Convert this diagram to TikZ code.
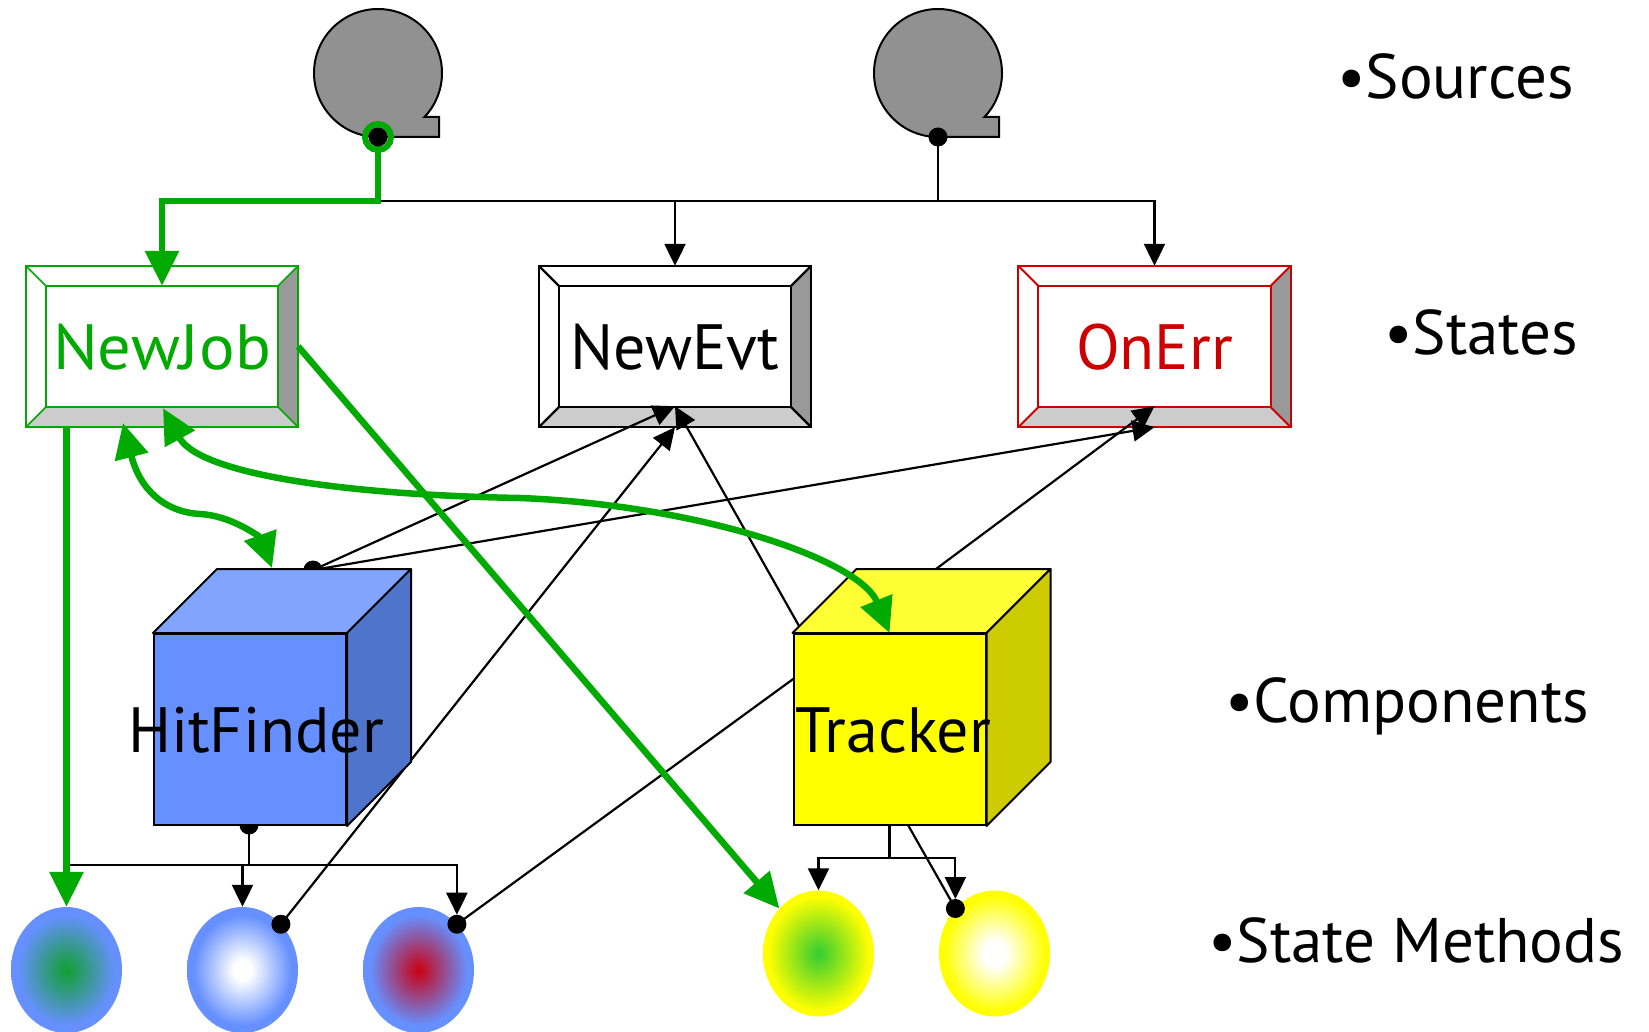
\documentclass[tikz,border=0pt]{standalone}
\usepackage{fontspec}
\usepackage{graphicx}
\setmainfont{PT Sans}
\usetikzlibrary{arrows.meta,calc,shapes.geometric}

\definecolor{jobgreen}{HTML}{00AA00}
\definecolor{errred}{HTML}{CC0000}
\definecolor{tapegray}{HTML}{919191}
\definecolor{bevellight}{HTML}{CCCCCC}
\definecolor{beveldark}{HTML}{999999}
\definecolor{hitblue}{HTML}{6690FF}
\definecolor{hittop}{HTML}{80A4FF}
\definecolor{hitside}{HTML}{4E74CC}
\definecolor{trkyellow}{HTML}{FFFF00}
\definecolor{trktop}{HTML}{FFFF33}
\definecolor{trkside}{HTML}{CCCC00}
\definecolor{methgreen}{HTML}{10A030}
\definecolor{methlime}{HTML}{33CC33}
\definecolor{methred}{HTML}{CC0011}

% method shadings
\pgfdeclareradialshading{jobblue}{\pgfpoint{0bp}{0bp}}{color(0bp)=(methgreen); color(22bp)=(hitblue); color(50bp)=(hitblue)}
\pgfdeclareradialshading{evtblue}{\pgfpoint{0bp}{0bp}}{color(0bp)=(white); color(4bp)=(white); color(22bp)=(hitblue); color(50bp)=(hitblue)}
\pgfdeclareradialshading{errblue}{\pgfpoint{0bp}{0bp}}{color(0bp)=(methred); color(22bp)=(hitblue); color(50bp)=(hitblue)}
\pgfdeclareradialshading{jobyellow}{\pgfpoint{0bp}{0bp}}{color(0bp)=(methlime); color(23bp)=(trkyellow); color(50bp)=(trkyellow)}
\pgfdeclareradialshading{evtyellow}{\pgfpoint{0bp}{0bp}}{color(0bp)=(white); color(5bp)=(white); color(23bp)=(trkyellow); color(50bp)=(trkyellow)}

\tikzset{
  thinline/.style={line width=2.2pt},
  sigline/.style={line width=2.2pt, -{Triangle[length=22pt,width=21pt]}},
  greenline/.style={line width=6.5pt, jobgreen, -{Triangle[length=35pt,width=33pt]}},
  greenboth/.style={line width=6.5pt, jobgreen, {Triangle[length=35pt,width=33pt]}-{Triangle[length=35pt,width=33pt]}},
  statebox/.style={minimum width=272pt, minimum height=161pt, inner sep=0pt,
    text height=45pt, text depth=0pt, font=\fontsize{64}{70}\selectfont},
  cubefront/.style={draw, line width=2pt, minimum width=192pt, minimum height=191pt, inner sep=0pt},
  cubename/.style={inner sep=0pt, text height=45pt, text depth=0pt, font=\fontsize{64}{70}\selectfont},
  methnode/.style={ellipse, minimum width=111pt, minimum height=126pt, inner sep=0pt, shade},
  tagtext/.style={anchor=base west, inner sep=0pt, font=\fontsize{63}{70}\selectfont},
}

\begin{document}
\begin{tikzpicture}[x=1pt, y=-1pt]
\useasboundingbox (0,0) rectangle (1649,1032);

% States
\node[statebox, text=jobgreen] (newjob) at (162,346.5) {\scalebox{1.04}[1]{NewJob}};
\node[statebox] (newevt) at (675,346.5) {NewEvt};
\node[statebox, text=errred] (onerr) at (1154.5,346.5) {OnErr};

\foreach \bx/\c/\w in {newjob/jobgreen/1.6, newevt/black/2.2, onerr/errred/1.8}{
  \fill[bevellight] (\bx.south west) -- (\bx.south east) -- ($(\bx.south east)+(-20,-20)$) -- ($(\bx.south west)+(20,-20)$) -- cycle;
  \fill[beveldark] (\bx.north east) -- (\bx.south east) -- ($(\bx.south east)+(-20,-20)$) -- ($(\bx.north east)+(-20,20)$) -- cycle;
  \draw[draw=\c, line width=\w pt] (\bx.south west) rectangle (\bx.north east);
  \draw[draw=\c, line width=\w pt] ($(\bx.south west)+(20,-20)$) rectangle ($(\bx.north east)+(-20,20)$);
  \draw[draw=\c, line width=\w pt] (\bx.south west) -- ++(20,-20) (\bx.south east) -- ++(-20,-20)
    (\bx.north east) -- ++(-20,20) (\bx.north west) -- ++(20,20);
}

% Sources
\coordinate (src1) at (378,137);
\coordinate (src2) at (938,137);
\foreach \s in {src1, src2}
  \filldraw[fill=tapegray, line width=2pt] (\s) arc[start angle=90, end angle=403.4, radius=64]
    -- ++(14.5,0) -- ++(0,20) -- cycle;

\coordinate (bus) at (378,201);
\draw[thinline] (src2) -- (src2 |- bus);
\draw[sigline] (bus) -| (onerr.north);
\draw[sigline] (bus -| newevt.north) -- (newevt.north);
\draw[greenline] (src1) -- (bus) -| ($(newjob.north)+(0,20)$);

% State methods
\node[methnode, shading=jobblue] (hf-job) at (66.5,970) {};
\node[methnode, shading=evtblue] (hf-evt) at (242.5,970) {};
\node[methnode, shading=errblue] (hf-err) at (418.5,970) {};
\node[methnode, shading=jobyellow] (tr-job) at (818.5,953.5) {};
\node[methnode, shading=evtyellow] (tr-evt) at (994.5,953.5) {};

% ports on the components
\coordinate (hf-top) at (313,570);
\coordinate (hf-bot) at (249,825);
\coordinate (tr-a) at (825,672);
\coordinate (tr-b) at (889,604);
\coordinate (tr-c) at (811,666);
\coordinate (tr-d) at (904,818);

\draw[sigline] (hf-top) -- ($(newevt.south)+(0,-21)$);
\draw[sigline] (hf-top) -- (onerr.south);
\draw[sigline] (hf-evt.50) -- (newevt.south);
\draw[sigline] (tr-a) -- ($(newevt.south)+(0,-21)$);
\draw[sigline] (tr-b) -- ($(onerr.south)+(0,-21)$);
\draw[thinline] (hf-err.50) -- (tr-c);
\draw[thinline] (tr-evt.131) -- (tr-d);

\draw[thinline] (hf-bot) -- ++(0,40) coordinate (hfbus);
\draw[thinline] (hfbus) -- (hfbus -| hf-job.north);
\draw[sigline] (hfbus -| hf-evt.north) -- (hf-evt.north);
\draw[sigline] (hfbus) -| ($(hf-err.50)+(0,-9.5)$);

\draw[thinline] (889.5,825) -- ++(0,33) coordinate (trbus);
\draw[sigline] (trbus) -| (tr-job.north);
\draw[sigline] (trbus) -| ($(tr-evt.131)+(0,-9.5)$);

\draw[jobgreen, line width=6pt] (src1) circle[radius=13];
\foreach \p in {src1, src2, hf-top, hf-bot, hf-evt.50, hf-err.50, tr-evt.131}
  \fill (\p) circle[radius=9.5];

% Components
\node[cubefront, fill=hitblue] (hitfinder) at (250,729.5) {};
\node[cubefront, fill=trkyellow] (tracker) at (889.5,729.5) {};

\foreach \cb/\tp/\sd in {hitfinder/hittop/hitside, tracker/trktop/trkside}{
  \filldraw[fill=\tp, line width=2pt, line join=round] (\cb.north west) -- ++(64,-64)
    -- ($(\cb.north east)+(64,-64)$) -- (\cb.north east) -- cycle;
  \filldraw[fill=\sd, line width=2pt, line join=round] (\cb.north east) -- ++(64,-64)
    -- ($(\cb.south east)+(64,-64)$) -- (\cb.south east) -- cycle;
}
\node[cubename] (hitfinder-name) at ($(hitfinder)+(6,0)$) {HitFinder};
\node[cubename] (tracker-name) at ($(tracker)+(4,0)$) {Tracker};

% green flow of NewJob
\draw[greenline] (newjob.south -| hf-job.north) -- (hf-job.north);
\draw[greenline] (newjob.east) -- (tr-job.131);
\draw[greenboth] (123,423) .. controls (140,490) and (165,512) .. (200,514)
  .. controls (235,516) and (262,540) .. (272,568);
\draw[greenboth] ($(newjob.south)+(1,-19)$) .. controls (200,475) and (350,495) .. (520,498)
  .. controls (700,505) and (860,560) .. (tracker.north);

% Labels
\node[tagtext] (lbl-src) at (1337,99) {•Sources};
\node[tagtext] (lbl-state) at (1384,354) {•States};
\node[tagtext] (lbl-comp) at (1225,722.7) {•Components};
\node[tagtext] (lbl-meth) at (1208,962.7) {•State Methods};

\end{tikzpicture}
\end{document}
